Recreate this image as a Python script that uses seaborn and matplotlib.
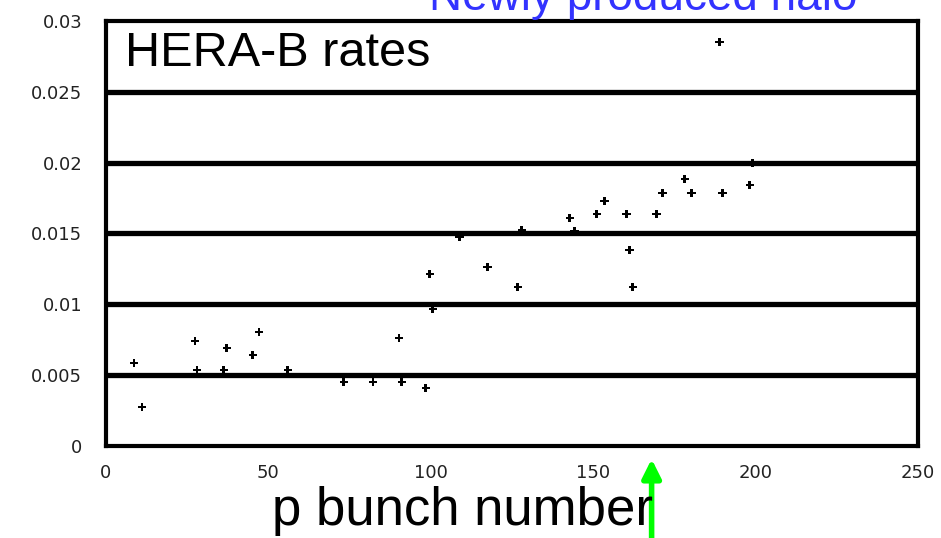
import pandas as pd
import matplotlib
matplotlib.use('Agg')
import matplotlib.pyplot as plt
import seaborn as sns

# values
bunch = [8.6, 11.1, 27.4, 28.0, 37.2, 36.3, 47.1, 45.2, 56.0, 73.2,
         82.2, 90.2, 91.1, 98.5, 99.7, 100.6, 108.9, 117.5, 126.8, 128.0,
         142.8, 144.3, 151.1, 153.5, 160.3, 161.2, 162.2, 169.5, 171.4, 178.2,
         180.3, 189.8, 198.2, 199.1, 188.9]
rate = [0.00586, 0.00275, 0.00741, 0.00536, 0.00692, 0.00536, 0.00805, 0.00642, 0.00536, 0.00452,
        0.00452, 0.00762, 0.00452, 0.00410, 0.01214, 0.00967, 0.01475, 0.01264, 0.01122, 0.01525,
        0.01609, 0.01518, 0.01638, 0.01729, 0.01638, 0.01383, 0.01122, 0.01638, 0.01786, 0.01885,
        0.01786, 0.01786, 0.01842, 0.01998, 0.02852]

x_ticks = [0, 50, 100, 150, 200, 250]
y_ticks = [0, 0.005, 0.01, 0.015, 0.02, 0.025, 0.03]
y_labels = ['0', '0.005', '0.01', '0.015', '0.02', '0.025', '0.03']
grid_levels = [0.005, 0.01, 0.015, 0.02, 0.025]
arrow_bunch = 168

sns.set_style('white')
plt.rcParams['font.family'] = ['Liberation Sans', 'DejaVu Sans']

df = pd.DataFrame({'bunch': bunch, 'rate': rate})

fig = plt.figure(figsize=(9.41, 5.38), dpi=100)
ax = fig.add_axes([0.1126, 0.171, 0.8629, 0.79])

for lvl in grid_levels:
    ax.axhline(lvl, color='black', lw=3.8, zorder=1)

sns.scatterplot(data=df, x='bunch', y='rate', marker='P', s=36, color='black',
                edgecolor='none', ax=ax, zorder=3)

ax.set_xlim(0, 250)
ax.set_ylim(0, 0.03)
ax.set_xticks(x_ticks)
ax.set_xticklabels([str(t) for t in x_ticks])
ax.set_yticks(y_ticks)
ax.set_yticklabels(y_labels)
ax.tick_params(length=0, labelsize=13, colors='#222222')
ax.tick_params(axis='y', pad=17)
ax.tick_params(axis='x', pad=13)
for lab in ax.get_xticklabels() + ax.get_yticklabels():
    lab.set_family('DejaVu Sans')
ax.set_xlabel('')
ax.set_ylabel('')
for sp in ax.spines.values():
    sp.set_color('black')
    sp.set_linewidth(3)
    sp.set_visible(True)

ax.text(0.133, 0.878, 'HERA-B rates', transform=fig.transFigure,
        fontsize=35, color='black', va='baseline', ha='left')
fig.text(0.684, 0.981, 'Newly produced halo', fontsize=33, color='#3333ff',
         va='baseline', ha='center')
fig.text(0.491, 0.024, 'p bunch number', fontsize=38, color='black',
         va='baseline', ha='center')

ax.annotate('', xy=(arrow_bunch, 0.152), xytext=(arrow_bunch, -0.01),
            xycoords=('data', 'figure fraction'), textcoords=('data', 'figure fraction'),
            arrowprops=dict(arrowstyle='-|>', color='#00ff00', lw=4, mutation_scale=28),
            annotation_clip=False, zorder=10)

fig.savefig('out.png', dpi=100)
